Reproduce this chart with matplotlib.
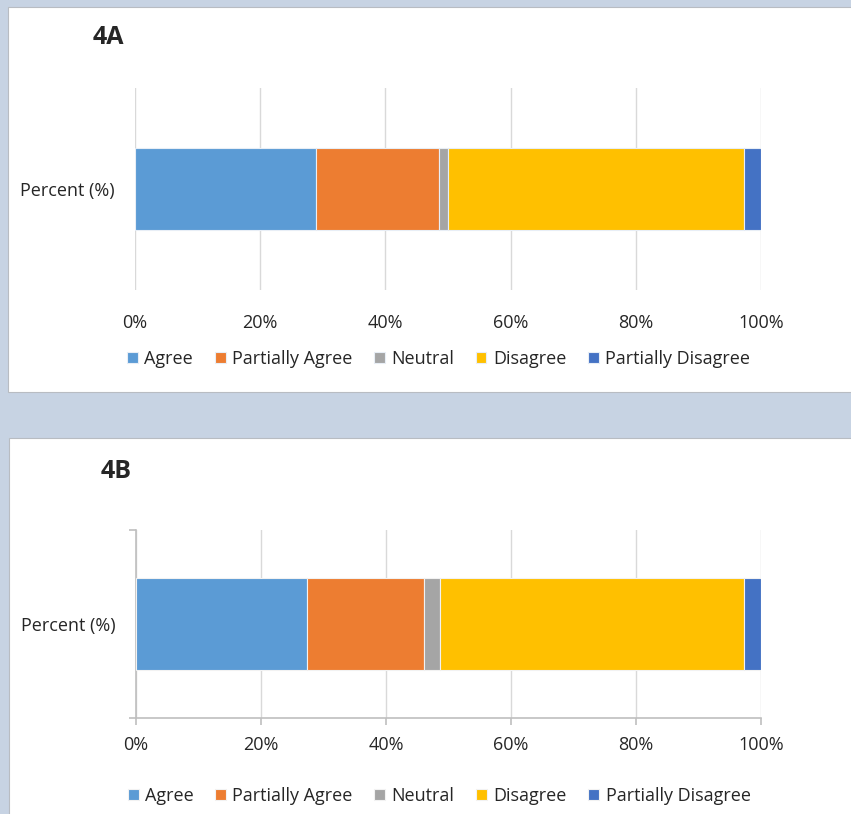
import matplotlib.pyplot as plt
from matplotlib.patches import Rectangle
from matplotlib.ticker import PercentFormatter

plt.rcParams['font.family'] = ['Open Sans', 'DejaVu Sans']

categories = ['Agree', 'Partially Agree', 'Neutral', 'Disagree', 'Partially Disagree']
colors = ['#5b9bd5', '#ed7d31', '#a5a5a5', '#ffc000', '#4472c4']
row_label = 'Percent (%)'
values_4a = [28.9, 19.7, 1.4, 47.3, 2.7]
values_4b = [27.4, 18.7, 2.5, 48.7, 2.7]
x_ticks = [0, 20, 40, 60, 80, 100]

W, H = 851, 814
fig = plt.figure(figsize=(W / 100, H / 100), dpi=100)
fig.patch.set_facecolor('#c7d3e3')


def px_box(x0, y0, x1, y1):
    # pixel box (top-left origin) -> figure fraction rect
    return [x0 / W, 1 - y1 / H, (x1 - x0) / W, (y1 - y0) / H]


def panel(x0, y0, x1, y1):
    l, b, w, h = px_box(x0, y0, x1, y1)
    fig.patches.append(Rectangle((l, b), w, h, transform=fig.transFigure,
                                 facecolor='white', edgecolor='#b8bcc2', lw=0.8, zorder=-5))


def stacked(ax, vals, bar_h, edge):
    left = 0
    for v, c, name in zip(vals, colors, categories):
        ax.barh([0], [v], left=left, height=bar_h, color=c,
                edgecolor=edge, linewidth=0.8, label=name, zorder=3)
        left += v
    ax.set_facecolor('none')
    ax.set_xlim(0, 100)
    ax.set_ylim(-0.5, 0.5)
    ax.set_xticks(x_ticks)
    ax.xaxis.set_major_formatter(PercentFormatter(decimals=0))
    ax.set_yticks([0])
    ax.set_yticklabels([row_label])
    ax.grid(axis='x', color='#d9d9d9', lw=1, zorder=0)
    ax.set_axisbelow(True)
    ax.tick_params(axis='both', labelsize=13, colors='#262626')
    ax.tick_params(axis='y', length=0, pad=14.5)


def add_legend(ax, y):
    ax.legend(loc='center', bbox_to_anchor=(0.485, y), ncol=5,
              frameon=False, fontsize=13, handlelength=0.6, handleheight=0.6,
              handletextpad=0.35, columnspacing=1.2, labelcolor='#262626')


# panel A
panel(8, 7, 860, 392)
ax1 = fig.add_axes(px_box(135, 88, 761, 290))
stacked(ax1, values_4a, 0.41, '#e8eef6')
for s in ax1.spines.values():
    s.set_visible(False)
ax1.tick_params(axis='x', length=0, pad=17)
add_legend(ax1, (290 - 359) / 202)
fig.text(93 / W, 1 - 37 / H, '4A', fontsize=18, fontweight='bold',
         color='#262626', va='center', ha='left')

# panel B
panel(9, 438, 860, 830)
ax2 = fig.add_axes(px_box(136, 530, 761, 718))
stacked(ax2, values_4b, 0.49, '#f2f2f2')
for side in ['top', 'right']:
    ax2.spines[side].set_visible(False)
for side in ['left', 'bottom']:
    ax2.spines[side].set_color('#bfbfbf')
    ax2.spines[side].set_linewidth(1.2)
ax2.set_yticks([-0.5, 0.5], minor=True)
ax2.tick_params(axis='y', which='minor', length=5, color='#bfbfbf', width=1.2)
ax2.tick_params(axis='x', length=5, color='#bfbfbf', width=1.2, pad=8)
add_legend(ax2, (718 - 796) / 188)
fig.text(101 / W, 1 - 472 / H, '4B', fontsize=18, fontweight='bold',
         color='#262626', va='center', ha='left')

fig.savefig('out.png', dpi=100, facecolor=fig.get_facecolor())
